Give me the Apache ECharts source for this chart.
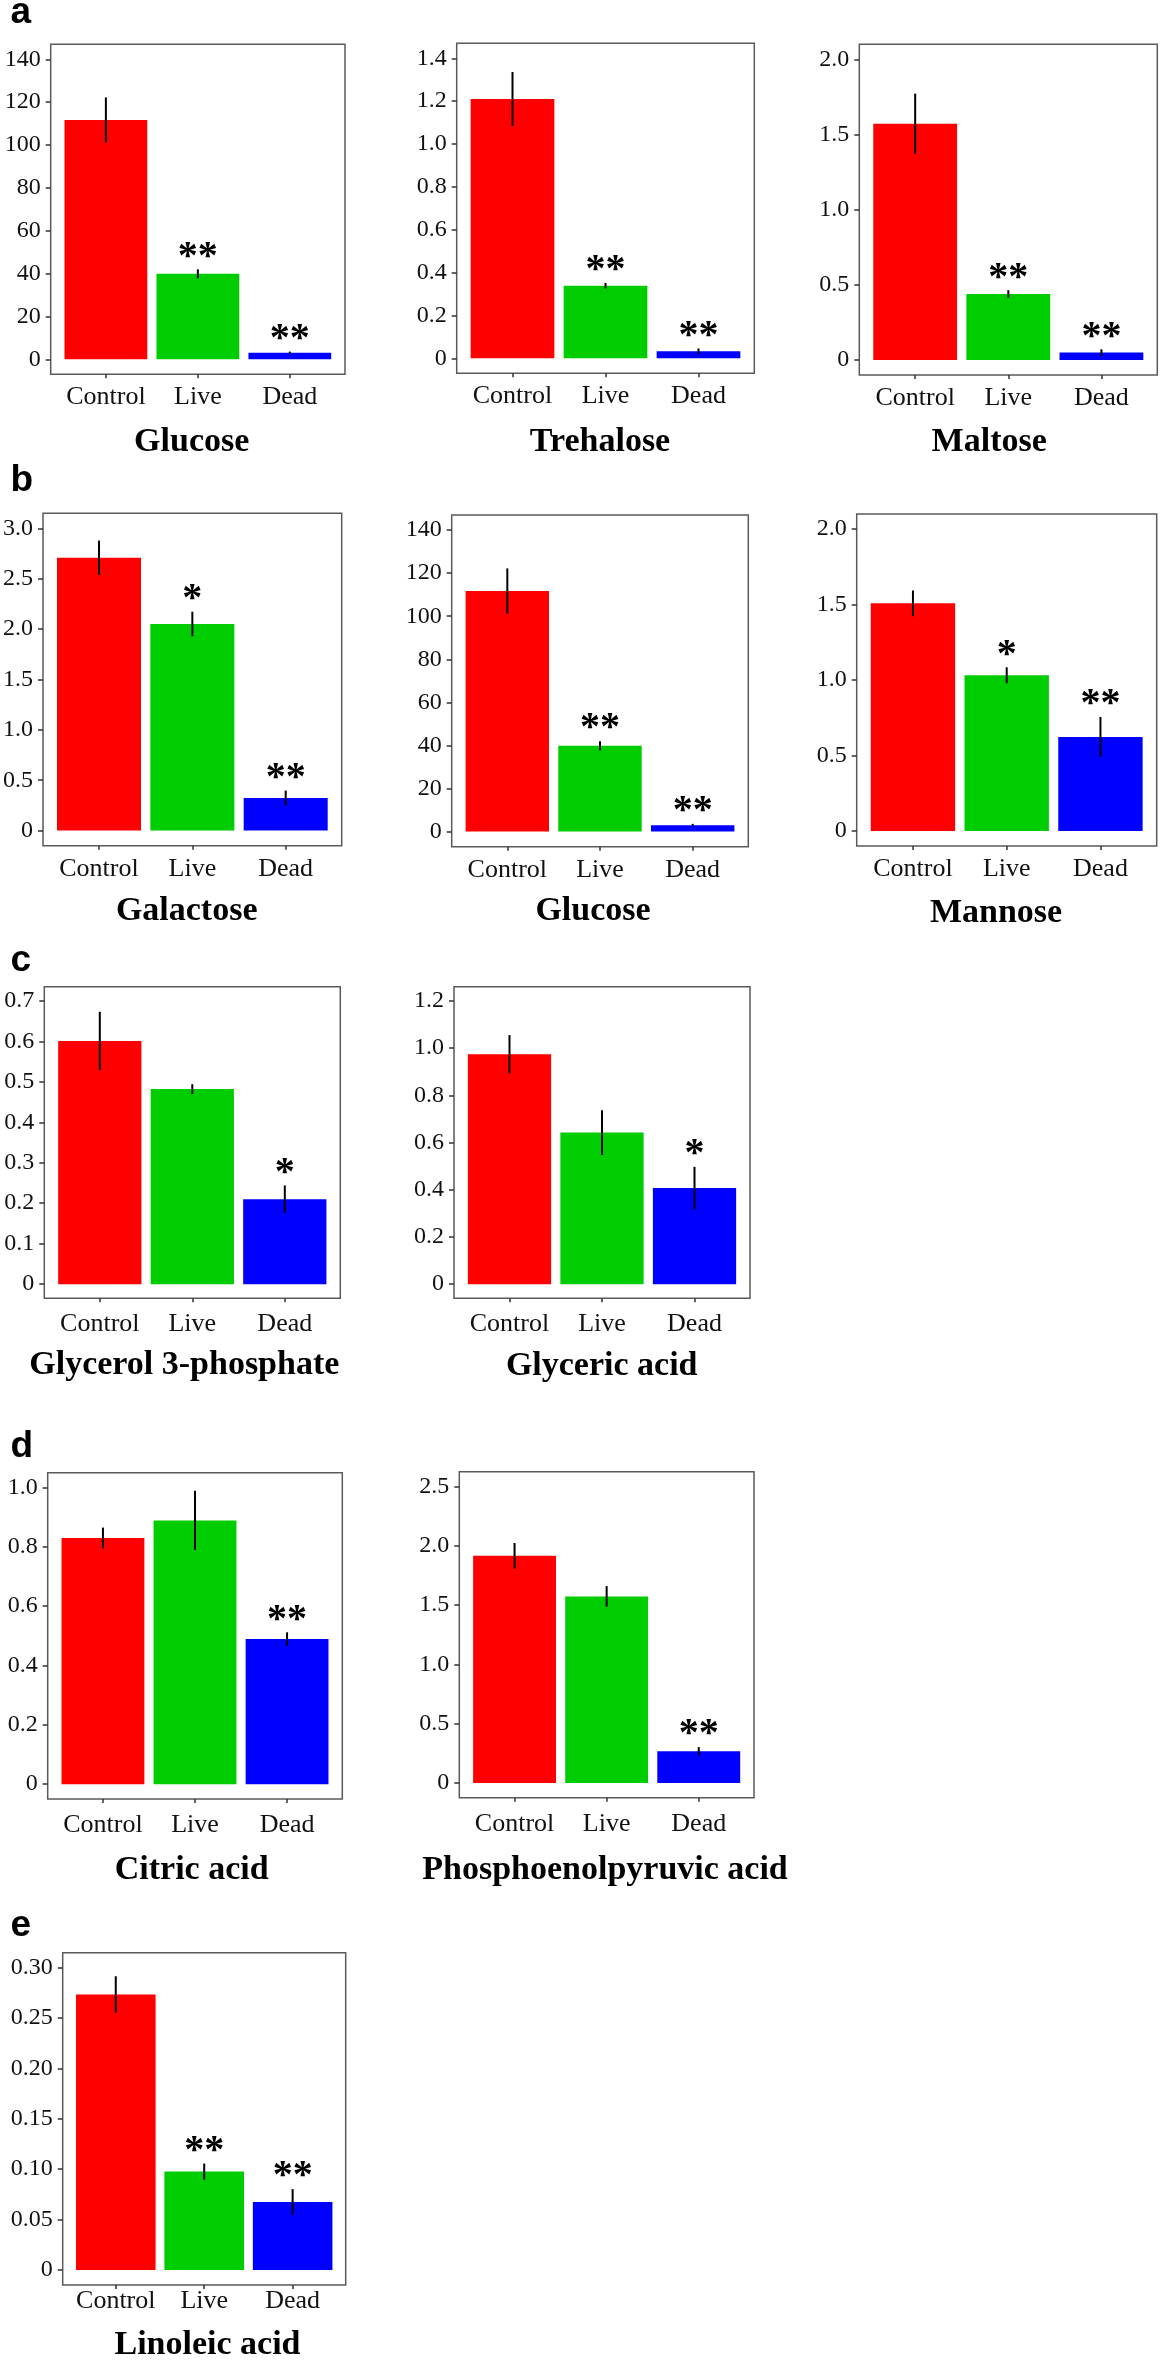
<!DOCTYPE html>
<html>
<head>
<meta charset="utf-8">
<script src="https://cdn.jsdelivr.net/npm/echarts@6/dist/echarts.min.js"></script>
<style>
html, body { margin: 0; padding: 0; background: #fff; }
#chart { width: 1163px; height: 2362px; }
</style>
</head>
<body>
<div id="chart"></div>
<script>
// ---------------- DATA ----------------
const categories = ['Control', 'Live', 'Dead'];

// a
const glucoseMean = [111.7, 39.9, 3.0];
const glucoseSE = [10.5, 2.1, 0.6];
const glucoseSig = ['', '**', '**'];
const glucoseTicks = ['0', '20', '40', '60', '80', '100', '120', '140'];

const trehaloseMean = [1.21, 0.339, 0.033];
const trehaloseSE = [0.126, 0.013, 0.013];
const trehaloseSig = ['', '**', '**'];
const trehaloseTicks = ['0', '0.2', '0.4', '0.6', '0.8', '1.0', '1.2', '1.4'];

const maltoseMean = [1.572, 0.439, 0.049];
const maltoseSE = [0.2, 0.025, 0.022];
const maltoseSig = ['', '**', '**'];
const maltoseTicks = ['0', '0.5', '1.0', '1.5', '2.0'];

// b
const galactoseMean = [2.709, 2.051, 0.324];
const galactoseSE = [0.17, 0.122, 0.073];
const galactoseSig = ['', '*', '**'];
const galactoseTicks = ['0', '0.5', '1.0', '1.5', '2.0', '2.5', '3.0'];

const mannoseMean = [1.508, 1.031, 0.623];
const mannoseSE = [0.085, 0.053, 0.132];
const mannoseSig = ['', '*', '**'];
const mannoseTicks = ['0', '0.5', '1.0', '1.5', '2.0'];

// c
const g3pMean = [0.601, 0.482, 0.210];
const g3pSE = [0.072, 0.012, 0.034];
const g3pSig = ['', '', '*'];
const g3pTicks = ['0', '0.1', '0.2', '0.3', '0.4', '0.5', '0.6', '0.7'];

const glycericMean = [0.974, 0.642, 0.407];
const glycericSE = [0.081, 0.095, 0.09];
const glycericSig = ['', '', '*'];
const glycericTicks = ['0', '0.2', '0.4', '0.6', '0.8', '1.0', '1.2'];

// d
const citricMean = [0.830, 0.889, 0.489];
const citricSE = [0.035, 0.1, 0.023];
const citricSig = ['', '', '**'];
const citricTicks = ['0', '0.2', '0.4', '0.6', '0.8', '1.0'];

const pepMean = [1.916, 1.573, 0.267];
const pepSE = [0.108, 0.087, 0.035];
const pepSig = ['', '', '**'];
const pepTicks = ['0', '0.5', '1.0', '1.5', '2.0', '2.5'];

// e
const linoleicMean = [0.2736, 0.0976, 0.0675];
const linoleicSE = [0.018, 0.008, 0.0127];
const linoleicSig = ['', '**', '**'];
const linoleicTicks = ['0', '0.05', '0.10', '0.15', '0.20', '0.25', '0.30'];

// ---------------- STYLE / LAYOUT ----------------
const BAR_COLORS = ['#FF0000', '#00CD00', '#0000FF'];
const SERIF = '"Liberation Serif", "Times New Roman", Times, serif';
const SANS = '"Liberation Sans", Arial, Helvetica, sans-serif';

const panels = [
  { title: 'Glucose', mean: glucoseMean, se: glucoseSE, sig: glucoseSig, ticks: glucoseTicks,
    box: [50.7, 44.3, 294.3, 330], titlePos: [191.7, 453.3], xm: 10 },
  { title: 'Trehalose', mean: trehaloseMean, se: trehaloseSE, sig: trehaloseSig, ticks: trehaloseTicks,
    box: [456.7, 43.3, 297.6, 330], titlePos: [600, 453.3], xm: 10 },
  { title: 'Maltose', mean: maltoseMean, se: maltoseSE, sig: maltoseSig, ticks: maltoseTicks,
    box: [859.3, 44.3, 298, 330.7], titlePos: [989.2, 453.3], xm: 10 },
  { title: 'Galactose', mean: galactoseMean, se: galactoseSE, sig: galactoseSig, ticks: galactoseTicks,
    box: [42.7, 513.3, 299, 332.4], titlePos: [186.7, 922.3], xm: 10.2 },
  { title: 'Glucose', mean: glucoseMean, se: glucoseSE, sig: glucoseSig, ticks: glucoseTicks,
    box: [451.7, 515, 296.6, 331.7], titlePos: [593, 922.3], xm: 10.2 },
  { title: 'Mannose', mean: mannoseMean, se: mannoseSE, sig: mannoseSig, ticks: mannoseTicks,
    box: [856.7, 514, 300, 332], titlePos: [996, 925], xm: 10.2 },
  { title: 'Glycerol 3-phosphate', mean: g3pMean, se: g3pSE, sig: g3pSig, ticks: g3pTicks,
    box: [44.3, 986.7, 296, 311.6], titlePos: [184.3, 1376.7], xm: 12.6 },
  { title: 'Glyceric acid', mean: glycericMean, se: glycericSE, sig: glycericSig, ticks: glycericTicks,
    box: [454, 986.7, 296, 311.6], titlePos: [601.7, 1377.7], xm: 12.6 },
  { title: 'Citric acid', mean: citricMean, se: citricSE, sig: citricSig, ticks: citricTicks,
    box: [47.7, 1472.7, 294.6, 326.3], titlePos: [191.7, 1881.7], xm: 13.5 },
  { title: 'Phosphoenolpyruvic acid', mean: pepMean, se: pepSE, sig: pepSig, ticks: pepTicks,
    box: [459.3, 1471.7, 294.7, 326], titlePos: [605, 1881.7], xm: 13.5 },
  { title: 'Linoleic acid', mean: linoleicMean, se: linoleicSE, sig: linoleicSig, ticks: linoleicTicks,
    box: [62.7, 1952.7, 283, 332.3], titlePos: [207.5, 2356.7], xm: 3.5 }
];

const letters = [
  { text: 'a', baseline: 26 },
  { text: 'b', baseline: 493.3 },
  { text: 'c', baseline: 973.3 },
  { text: 'd', baseline: 1460 },
  { text: 'e', baseline: 1938.3 }
];

// ---------------- BUILD ----------------
const option = {
  animation: false,
  backgroundColor: '#ffffff',
  grid: [], xAxis: [], yAxis: [], series: [], graphic: []
};

panels.forEach((p, i) => {
  const tickVals = p.ticks.map(Number);
  const M = Math.max.apply(null, tickVals);
  const labelFor = (v) => {
    for (let k = 0; k < tickVals.length; k++) {
      if (Math.abs(tickVals[k] - v) < M * 1e-6) return p.ticks[k];
    }
    return '';
  };

  option.grid.push({
    left: p.box[0], top: p.box[1], width: p.box[2], height: p.box[3],
    show: true, borderColor: '#5a5a5a', borderWidth: 1.5, backgroundColor: '#ffffff'
  });

  option.xAxis.push({
    type: 'value', gridIndex: i, min: 0.4, max: 3.6,
    axisLine: { show: false, onZero: false },
    splitLine: { show: false },
    axisTick: { show: true, customValues: [1, 2, 3], length: 4, lineStyle: { color: '#333', width: 1.5 } },
    axisLabel: {
      customValues: [1, 2, 3],
      formatter: (v) => categories[Math.round(v) - 1] || '',
      fontFamily: SERIF, fontSize: 26, color: '#111', margin: p.xm
    }
  });

  option.yAxis.push({
    type: 'value', gridIndex: i, min: -0.05 * M, max: 1.05 * M,
    axisLine: { show: false, onZero: false },
    splitLine: { show: false },
    axisTick: { show: true, customValues: tickVals, length: 5, lineStyle: { color: '#333', width: 1.5 } },
    axisLabel: {
      customValues: tickVals,
      formatter: labelFor,
      fontFamily: SERIF, fontSize: 24, color: '#111', margin: 10
    }
  });

  // bars
  option.series.push({
    type: 'bar', name: p.title, xAxisIndex: i, yAxisIndex: i,
    barWidth: '90%', silent: true,
    data: p.mean.map((v, k) => ({ value: [k + 1, v], itemStyle: { color: BAR_COLORS[k] } }))
  });

  // error bars (mean ± SE)
  option.series.push({
    type: 'custom', xAxisIndex: i, yAxisIndex: i, silent: true, z: 5,
    data: p.mean.map((v, k) => [k + 1, v, p.se[k]]),
    renderItem: (params, api) => {
      const x = api.value(0), m = api.value(1), e = api.value(2);
      const top = api.coord([x, m + e]);
      const bot = api.coord([x, m - e]);
      return {
        type: 'line',
        shape: { x1: top[0], y1: top[1], x2: bot[0], y2: bot[1] },
        style: { stroke: '#000', lineWidth: 2 }
      };
    }
  });

  // significance asterisks
  const sigRows = [];
  p.sig.forEach((s, k) => { if (s) sigRows.push({ x: k + 1, y: p.mean[k] + p.se[k], s: s }); });
  option.series.push({
    type: 'custom', xAxisIndex: i, yAxisIndex: i, silent: true, z: 6,
    data: sigRows.map(r => [r.x, r.y]),
    renderItem: (params, api) => {
      const pt = api.coord([api.value(0), api.value(1)]);
      return {
        type: 'text', x: pt[0], y: pt[1] + 8,
        style: {
          text: sigRows[params.dataIndex].s,
          fontFamily: SERIF, fontSize: 40, fontWeight: 'bold', fill: '#000',
          align: 'center', verticalAlign: 'bottom'
        }
      };
    }
  });

  // panel title (x-axis title)
  option.graphic.push({
    type: 'text', x: p.titlePos[0], y: p.titlePos[1] + 5.5, silent: true,
    style: {
      text: p.title, fontFamily: SERIF, fontSize: 34, fontWeight: 'bold', fill: '#000',
      align: 'center', verticalAlign: 'bottom'
    }
  });
});

letters.forEach(l => {
  option.graphic.push({
    type: 'text', x: 10.5, y: l.baseline + 5.7, silent: true,
    style: {
      text: l.text, fontFamily: SANS, fontSize: 37, fontWeight: 'bold', fill: '#000',
      align: 'left', verticalAlign: 'bottom'
    }
  });
});

const chart = echarts.init(document.getElementById('chart'), null, { renderer: 'canvas' });
chart.setOption(option);
</script>
</body>
</html>
